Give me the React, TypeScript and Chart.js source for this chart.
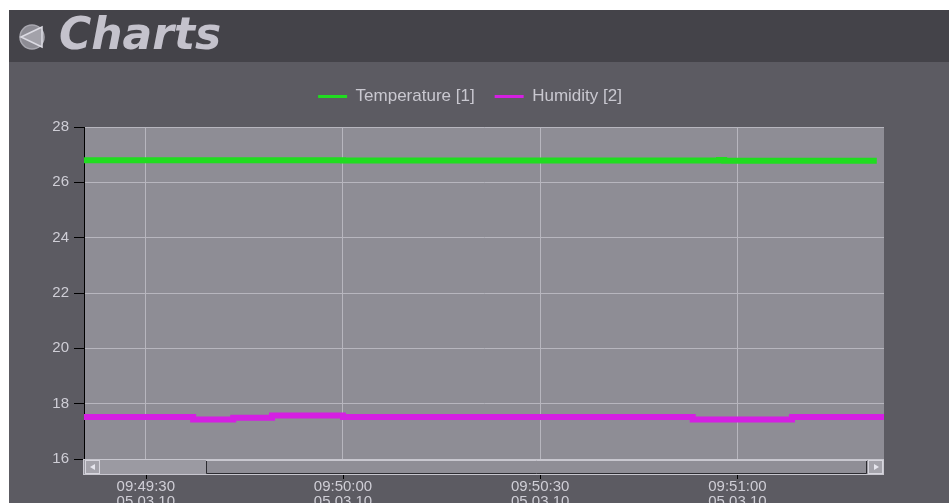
import React, { useEffect, useRef } from "react";
import { Chart, registerables } from "chart.js";

Chart.register(...registerables);

// ---- data (seconds after 09:49:00 on 05.03.10) ----
const TEMP_T = [20.6, 45, 60, 74, 117.2, 118, 141.2];
const TEMP_V = [26.8, 26.8, 26.79, 26.79, 26.81, 26.78, 26.78];
const HUM_T = [20.6, 37.2, 43.3, 49.2, 60.0, 113.2, 128.3, 142.3];
const HUM_V = [17.52, 17.43, 17.49, 17.57, 17.52, 17.43, 17.52, 17.52];
const TICK_SECONDS = [30, 60, 90, 120];
const TICK_TIMES = ["09:49:30", "09:50:00", "09:50:30", "09:51:00"];
const TICK_DATES = ["05.03.10", "05.03.10", "05.03.10", "05.03.10"];
const Y_TICKS = [16, 18, 20, 22, 24, 26, 28];
const X_MIN = 20.6;
const X_MAX = 142.3;
const SERIES_LABELS = ["Temperature [1]", "Humidity [2]"];

const FONT = '"Liberation Sans", Arial, sans-serif';
const TEXT = "#cfced6";
const GRID = "#b7b6be";
const PLOT_BG = "#8e8d95";
const PANEL = "#5c5b62";
const HEADER = "#444349";

const chromePlugin = {
  id: "chrome",
  beforeLayout(chart: any) {
    const lg = chart.legend;
    if (lg && !lg.__patched) {
      const f = lg.fit.bind(lg);
      lg.fit = () => {
        f();
        lg.height = 59;
      };
      lg.__patched = true;
    }
  },
  afterLayout(chart: any) {
    const lg = chart.legend;
    if (lg) {
      lg.left = 56;
      lg.right = 884;
      lg.width = 828;
    }
  },
  beforeDraw(chart: any) {
    const { ctx, chartArea } = chart;
    ctx.save();
    ctx.fillStyle = PLOT_BG;
    ctx.fillRect(chartArea.left, chartArea.top, chartArea.right - chartArea.left, chartArea.bottom - chartArea.top);
    ctx.restore();
  },
  afterDraw(chart: any) {
    const { ctx, chartArea } = chart;
    const { left, right, bottom } = chartArea;
    const w = right - left;
    const h = 16;
    ctx.save();
    // track
    ctx.fillStyle = "#9b9aa2";
    ctx.fillRect(left - 1, bottom, w + 1, h);
    ctx.strokeStyle = "#c8c7cf";
    ctx.lineWidth = 1;
    ctx.strokeRect(left - 0.5, bottom + 0.5, w, h - 1);
    // left button
    ctx.fillStyle = "#a4a3ab";
    ctx.fillRect(left + 2, bottom + 2, 13, 12);
    ctx.strokeStyle = "#d6d5dd";
    ctx.strokeRect(left + 1.5, bottom + 1.5, 14, 13);
    ctx.fillStyle = "#e6e6ee";
    ctx.beginPath();
    ctx.moveTo(left + 6, bottom + 8);
    ctx.lineTo(left + 11, bottom + 5);
    ctx.lineTo(left + 11, bottom + 11);
    ctx.closePath();
    ctx.fill();
    // thumb
    const tx0 = left + Math.round(w * 0.153);
    const tx1 = right - 17;
    ctx.fillStyle = "#8f8e96";
    ctx.fillRect(tx0, bottom + 1, tx1 - tx0, h - 2);
    ctx.strokeStyle = "#c8c7cf";
    ctx.beginPath();
    ctx.moveTo(tx0, bottom + 1.5);
    ctx.lineTo(tx1, bottom + 1.5);
    ctx.stroke();
    ctx.strokeStyle = "#2c2c31";
    ctx.beginPath();
    ctx.moveTo(tx0 + 0.5, bottom + 2);
    ctx.lineTo(tx0 + 0.5, bottom + h - 1.5);
    ctx.lineTo(tx1 - 0.5, bottom + h - 1.5);
    ctx.lineTo(tx1 - 0.5, bottom + 2);
    ctx.stroke();
    // right button
    ctx.fillStyle = "#a4a3ab";
    ctx.fillRect(right - 15, bottom + 2, 13, 12);
    ctx.strokeStyle = "#d6d5dd";
    ctx.strokeRect(right - 15.5, bottom + 1.5, 14, 13);
    ctx.fillStyle = "#e6e6ee";
    ctx.beginPath();
    ctx.moveTo(right - 5, bottom + 8);
    ctx.lineTo(right - 10, bottom + 5);
    ctx.lineTo(right - 10, bottom + 11);
    ctx.closePath();
    ctx.fill();
    // x tick marks under the scrollbar
    const xs = chart.scales.x;
    ctx.strokeStyle = "#000";
    ctx.lineWidth = 1;
    for (const v of TICK_SECONDS) {
      const px = Math.round(xs.getPixelForValue(v)) + 0.5;
      ctx.beginPath();
      ctx.moveTo(px, bottom + h);
      ctx.lineTo(px, bottom + h + 4);
      ctx.stroke();
    }
    ctx.restore();
  },
};

function ChartCanvas() {
  const ref = useRef<HTMLCanvasElement | null>(null);
  useEffect(() => {
    if (!ref.current) return;
    const chart = new Chart(ref.current, {
      type: "line",
      data: {
        datasets: [
          {
            label: SERIES_LABELS[0],
            data: TEMP_T.map((t, i) => ({ x: t, y: TEMP_V[i] })),
            borderColor: "#20dc20",
            backgroundColor: "#20dc20",
            borderWidth: 6,
            pointRadius: 0,
            stepped: true,
          },
          {
            label: SERIES_LABELS[1],
            data: HUM_T.map((t, i) => ({ x: t, y: HUM_V[i] })),
            borderColor: "#d41fe2",
            backgroundColor: "#d41fe2",
            borderWidth: 6,
            pointRadius: 0,
            stepped: true,
          },
        ],
      },
      options: {
        animation: false,
        responsive: false,
        maintainAspectRatio: false,
        layout: { padding: { top: 68, right: 65, left: 0, bottom: 0 } },
        plugins: {
          tooltip: { enabled: false },
          legend: {
            position: "top",
            labels: {
              color: "#c9c8d0",
              font: { family: FONT, size: 17 },
              boxWidth: 29,
              boxHeight: 3,
              padding: 20,
              generateLabels: (c: any) =>
                (Chart.defaults.plugins.legend.labels.generateLabels as any)(c).map((l: any) => ({
                  ...l,
                  lineWidth: 0,
                  fillStyle: l.strokeStyle,
                })),
            },
          },
        },
        scales: {
          x: {
            type: "linear",
            min: X_MIN,
            max: X_MAX,
            afterBuildTicks: (s: any) => {
              s.ticks = TICK_SECONDS.map((v) => ({ value: v }));
            },
            afterFit: (s: any) => {
              s.height = 44;
            },
            grid: { color: GRID, drawTicks: false, lineWidth: 1 },
            border: { display: false },
            ticks: {
              padding: 20,
              color: TEXT,
              autoSkip: false,
              maxRotation: 0,
              font: { family: FONT, size: 15, lineHeight: 1 },
              callback: (v: any) => {
                const i = TICK_SECONDS.indexOf(Number(v));
                return i >= 0 ? [TICK_TIMES[i], TICK_DATES[i]] : "";
              },
            },
          },
          y: {
            min: 16,
            max: 28,
            afterBuildTicks: (s: any) => {
              s.ticks = Y_TICKS.map((v) => ({ value: v }));
            },
            afterFit: (s: any) => {
              s.width = 84;
            },
            grid: { color: GRID, tickColor: "#000", tickLength: 10, lineWidth: 1 },
            border: { color: "#000", width: 1 },
            ticks: {
              padding: 5,
              color: TEXT,
              font: { family: FONT, size: 15 },
            },
          },
        },
      },
      plugins: [chromePlugin as any],
    });
    return () => chart.destroy();
  }, []);
  return (
    <canvas
      ref={ref}
      width={949}
      height={503}
      style={{ position: "absolute", left: 0, top: 0, width: 949, height: 503 }}
    />
  );
}

export default function App() {
  return (
    <div
      style={{
        position: "fixed",
        left: 0,
        top: 0,
        width: 949,
        height: 503,
        overflow: "hidden",
        background: "#ffffff",
      }}
    >
      <div style={{ position: "absolute", left: 9, top: 10, right: 0, bottom: 0, background: PANEL }} />
      <div style={{ position: "absolute", left: 9, top: 10, right: 0, height: 52, background: HEADER }} />
      <ChartCanvas />
      <svg
        width={30}
        height={30}
        viewBox="0 0 30 30"
        style={{ position: "absolute", left: 18, top: 23 }}
      >
        <circle cx={14} cy={14} r={12} fill="#8d8c94" stroke="#a9a8b0" strokeWidth={1.5} />
        <polygon points="3,14 24,4 24,24" fill="#a3a2aa" stroke="#dcdbe3" strokeWidth={1.5} />
      </svg>
      <div
        style={{
          position: "absolute",
          left: 59,
          top: 12,
          fontFamily: '"DejaVu Sans", Verdana, sans-serif',
          fontWeight: "bold",
          fontStyle: "italic",
          fontSize: 44,
          lineHeight: 1,
          color: "#c4c2cc",
          whiteSpace: "nowrap",
        }}
      >
        Charts
      </div>
    </div>
  );
}
